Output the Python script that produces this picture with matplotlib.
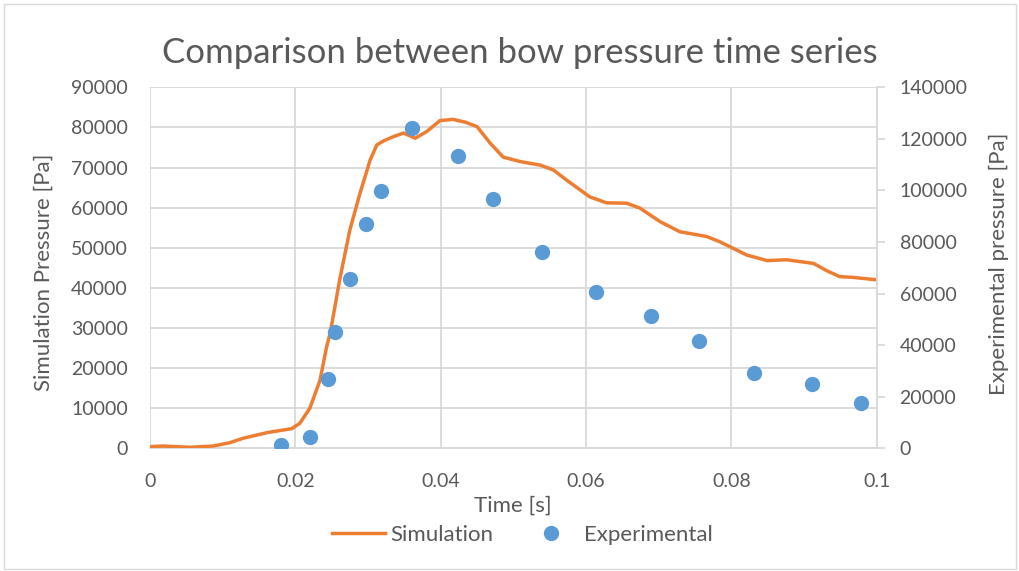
import matplotlib
matplotlib.use("Agg")
import matplotlib.pyplot as plt
from matplotlib.patches import Rectangle
from matplotlib.lines import Line2D

plt.rcParams['font.family'] = ['Lato', 'DejaVu Sans']

sim_t = [0, 0.0018, 0.0055, 0.0087, 0.0110, 0.0128, 0.0161, 0.0195, 0.0206, 0.0220,
         0.0234, 0.0243, 0.0248, 0.0261, 0.0275, 0.0289, 0.0303, 0.0312, 0.0321, 0.0335, 0.0349,
         0.0365, 0.0381, 0.0399, 0.0417, 0.0434, 0.0450, 0.0468, 0.0486, 0.0509, 0.0537, 0.0555,
         0.0573, 0.0605, 0.0628, 0.0656, 0.0674, 0.0702, 0.0729, 0.0766, 0.0784, 0.0821,
         0.0849, 0.0876, 0.0913, 0.0931, 0.0949, 0.0968, 0.1000]
sim_p = [400, 570, 250, 570, 1400, 2500, 3900, 4900, 6200, 10000,
         17000, 25300, 28700, 42000, 54400, 63600, 71900, 75600, 76600, 77700, 78600,
         77300, 79000, 81700, 82000, 81300, 80200, 76100, 72600, 71500, 70600, 69400,
         66900, 62700, 61200, 61100, 59900, 56500, 54000, 52800, 51500, 48200,
         46800, 47000, 46100, 44300, 42800, 42600, 42000]

exp_t = [0.01803, 0.02206, 0.02449, 0.0255, 0.02748, 0.02977, 0.03175, 0.03601, 0.04242,
         0.0472, 0.05398, 0.06141, 0.06898, 0.07555, 0.08312, 0.0911, 0.09784]
exp_p = [1300, 4500, 27000, 45200, 65500, 87000, 99900, 124100, 113200,
         96800, 76100, 60700, 51200, 41600, 29300, 24800, 17700]

x_ticks = [0, 0.02, 0.04, 0.06, 0.08, 0.1]
x_tick_labels = ['0', '0.02', '0.04', '0.06', '0.08', '0.1']
left_ticks = list(range(0, 90001, 10000))
right_ticks = list(range(0, 140001, 20000))

orange = '#ED7D31'
blue = '#5B9BD5'
grid_c = '#D9D9D9'
text_c = '#595959'

W, H = 1020, 571
fig = plt.figure(figsize=(W / 100, H / 100), dpi=100)
ax = fig.add_axes([150 / W, 1 - 448.3 / H, (876.7 - 150) / W, (448.3 - 87.3) / H])
ax2 = ax.twinx()

ax.plot(sim_t, sim_p, color=orange, lw=2.5, solid_capstyle='round', solid_joinstyle='round', zorder=3)
ax2.plot(exp_t, exp_p, 'o', color=blue, ms=10, zorder=3)

ax.set_xlim(0, 0.1)
ax.set_ylim(0, 90000)
ax2.set_ylim(0, 140000)
ax.set_xticks(x_ticks)
ax.set_xticklabels(x_tick_labels)
ax.set_yticks(left_ticks)
ax2.set_yticks(right_ticks)

ax.grid(True, color=grid_c, lw=1.3)
ax.set_axisbelow(True)
for a in (ax, ax2):
    for s in a.spines.values():
        s.set_visible(False)
ax.spines['bottom'].set_visible(True)
ax.spines['bottom'].set_color(grid_c)
ax.spines['bottom'].set_linewidth(1.3)
ax2.spines['right'].set_visible(True)
ax2.spines['right'].set_color(grid_c)
ax2.spines['right'].set_linewidth(1.3)

ax.tick_params(axis='x', length=0, labelsize=14, labelcolor=text_c, pad=18)
ax.tick_params(axis='y', length=0, labelsize=14, labelcolor=text_c, pad=16)
ax2.tick_params(axis='y', length=5.5, color=grid_c, width=1.3, labelsize=14, labelcolor=text_c, pad=11)

fig.text(513 / W, 1 - 506 / H, 'Time [s]', ha='center', va='center', fontsize=16, color=text_c)
fig.text(44 / W, 1 - 272 / H, 'Simulation Pressure [Pa]', ha='center', va='center',
         rotation=90, fontsize=16, color=text_c)
fig.text(999 / W, 1 - 264 / H, 'Experimental pressure [Pa]', ha='center', va='center',
         rotation=90, fontsize=16, color=text_c)

fig.text(520 / W, 1 - 63 / H, 'Comparison between bow pressure time series', ha='center',
         va='baseline', fontsize=25, color=text_c)

handles = [Line2D([], [], color=orange, lw=2.5),
           Line2D([], [], marker='o', ls='none', color=blue, ms=10)]
fig.legend(handles, ['Simulation', 'Experimental'], loc='center',
           bbox_to_anchor=(522 / W, 1 - 535 / H),
           ncol=2, frameon=False, fontsize=16, labelcolor=text_c, handlelength=2.4,
           columnspacing=1.4, handletextpad=0.25, borderpad=0, borderaxespad=0)

fig.patches.append(Rectangle((4 / W, 2 / H), 1 - 8 / W, 1 - 6 / H, transform=fig.transFigure,
                             fill=False, edgecolor=grid_c, lw=1))

fig.savefig('out.png', dpi=100)
